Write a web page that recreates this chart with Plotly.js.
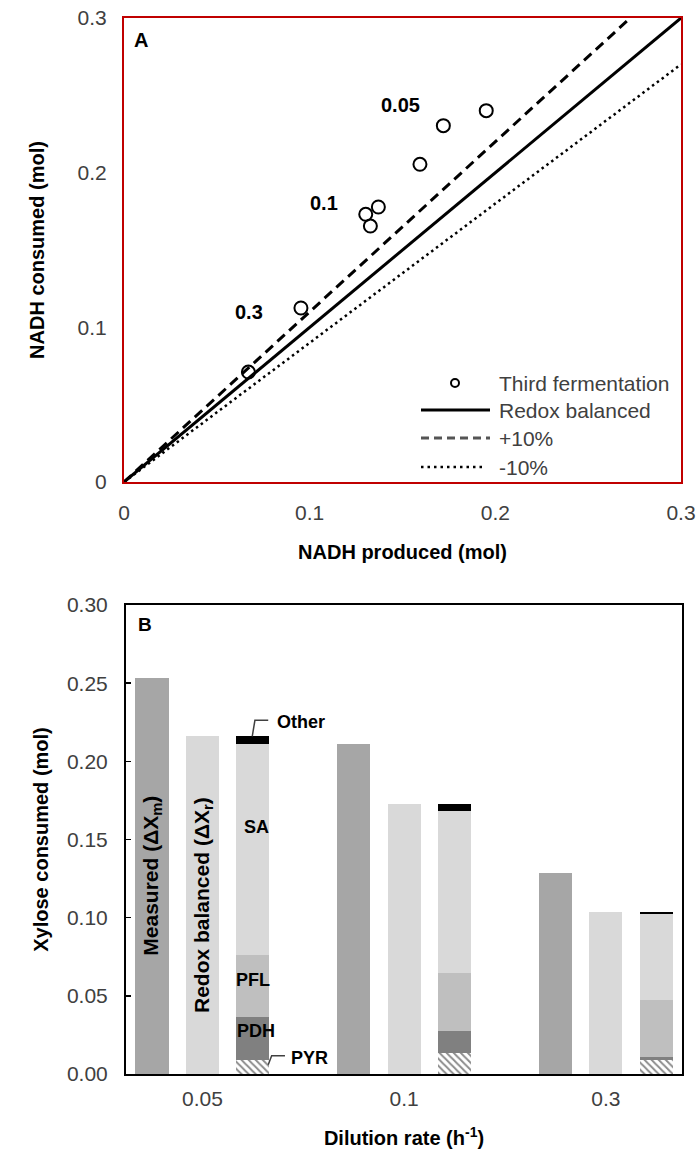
<!DOCTYPE html>
<html>
<head>
<meta charset="utf-8">
<script src="https://cdn.plot.ly/plotly-3.0.1.min.js"></script>
<style>html,body{margin:0;padding:0;background:#fff}#chart{width:698px;height:1153px}</style>
</head>
<body>
<div id="chart"></div>
<script>
// ---- Panel A data ----
const nadhProduced = [0.0670, 0.0953, 0.1302, 0.1327, 0.1370, 0.1594, 0.1720, 0.1951];
const nadhConsumed = [0.0711, 0.1125, 0.1731, 0.1655, 0.1778, 0.2054, 0.2304, 0.2401];
const balancedX = [0, 0.3];
const balancedY = [0, 0.3];
const plus10X = [0, 0.2727];
const plus10Y = [0, 0.3];
const minus10X = [0, 0.3];
const minus10Y = [0, 0.27];
const axisATicks = [0, 0.1, 0.2, 0.3];
const axisATickText = ['0', '0.1', '0.2', '0.3'];
const legendNames = ['Third fermentation', 'Redox balanced', '+10%', '-10%'];

// ---- Panel B data ----
const dilutionRates = ['0.05', '0.1', '0.3'];
const measured = [0.2535, 0.2113, 0.1283];
const redoxBalanced = [0.216, 0.1726, 0.1038];
const pyr = [0.0087, 0.0134, 0.0091];
const pdh = [0.0280, 0.0144, 0.0015];
const pfl = [0.0394, 0.0369, 0.0368];
const sa = [0.1352, 0.1036, 0.0547];
const other = [0.0047, 0.0043, 0.0017];

const FONT = 'Arial, "Liberation Sans", sans-serif';
const GRAY = '#404040';

const idx = dilutionRates.map((d, i) => i);
const xMeasured = idx.map(i => i - 0.25);
const xRedox = idx.map(i => i);
const xStack = idx.map(i => i + 0.25);
const BW = 0.164;

const traces = [
  {type: 'scatter', mode: 'markers', name: legendNames[0], x: nadhProduced, y: nadhConsumed,
   xaxis: 'x', yaxis: 'y',
   marker: {symbol: 'circle-open', size: 13, color: '#000', line: {width: 2, color: '#000'}}},
  {type: 'scatter', mode: 'lines', name: legendNames[1], x: balancedX, y: balancedY,
   xaxis: 'x', yaxis: 'y', line: {color: '#000', width: 3}},
  {type: 'scatter', mode: 'lines', name: legendNames[2], x: plus10X, y: plus10Y,
   xaxis: 'x', yaxis: 'y', line: {color: '#000', width: 3, dash: '10px,6px'}},
  {type: 'scatter', mode: 'lines', name: legendNames[3], x: minus10X, y: minus10Y,
   xaxis: 'x', yaxis: 'y', line: {color: '#000', width: 2.5, dash: '2.5px,3.5px'}},

  {type: 'bar', name: 'Measured', x: xMeasured, y: measured, width: BW, xaxis: 'x2', yaxis: 'y2',
   marker: {color: '#a6a6a6', line: {width: 0}}},
  {type: 'bar', name: 'Redox balanced (bar)', x: xRedox, y: redoxBalanced, width: BW, xaxis: 'x2', yaxis: 'y2',
   marker: {color: '#d9d9d9', line: {width: 0}}},
  {type: 'bar', name: 'PYR', x: xStack, y: pyr, width: BW, xaxis: 'x2', yaxis: 'y2',
   marker: {color: '#ffffff', line: {width: 0},
            pattern: {shape: '\\', fgcolor: '#8c8c8c', bgcolor: '#ffffff', size: 5, solidity: 0.4}}},
  {type: 'bar', name: 'PDH', x: xStack, y: pdh, width: BW, xaxis: 'x2', yaxis: 'y2',
   marker: {color: '#808080', line: {width: 0}}},
  {type: 'bar', name: 'PFL', x: xStack, y: pfl, width: BW, xaxis: 'x2', yaxis: 'y2',
   marker: {color: '#bfbfbf', line: {width: 0}}},
  {type: 'bar', name: 'SA', x: xStack, y: sa, width: BW, xaxis: 'x2', yaxis: 'y2',
   marker: {color: '#d9d9d9', line: {width: 0}}},
  {type: 'bar', name: 'Other', x: xStack, y: other, width: BW, xaxis: 'x2', yaxis: 'y2',
   marker: {color: '#000000', line: {width: 0}}}
];

const W = 698, H = 1153;
const px = v => v / W, py = v => (H - v) / H;

const boldFont = (s) => ({family: FONT, size: s, color: '#000'});

// legend rows (pixel layout)
const legendRowY = [383, 410, 438, 467];
const legendTextX = 497;

const annotations = [
  {xref: 'x', yref: 'y', x: 0.0092, y: 0.2858, text: '<b>A</b>', showarrow: false, font: boldFont(20)},
  {xref: 'x', yref: 'y', x: 0.149, y: 0.2437, text: '<b>0.05</b>', showarrow: false, font: boldFont(20)},
  {xref: 'x', yref: 'y', x: 0.1077, y: 0.1802, text: '<b>0.1</b>', showarrow: false, font: boldFont(20)},
  {xref: 'x', yref: 'y', x: 0.0672, y: 0.1101, text: '<b>0.3</b>', showarrow: false, font: boldFont(20)},

  {xref: 'x2', yref: 'y2', x: -0.285, y: 0.2873, text: '<b>B</b>', showarrow: false, font: boldFont(19)},
  {xref: 'x2', yref: 'y2', x: -0.252, y: 0.1266, text: '<b>Measured (ΔX<sub>m</sub>)</b>', textangle: -90, showarrow: false, font: boldFont(21)},
  {xref: 'x2', yref: 'y2', x: 0, y: 0.1084, text: '<b>Redox balanced (ΔX<sub>r</sub>)</b>', textangle: -90, showarrow: false, font: boldFont(21)},
  {xref: 'x2', yref: 'y2', x: 0.267, y: 0.1581, text: '<b>SA</b>', showarrow: false, font: boldFont(18)},
  {xref: 'x2', yref: 'y2', x: 0.25, y: 0.0602, text: '<b>PFL</b>', showarrow: false, font: boldFont(18)},
  {xref: 'x2', yref: 'y2', x: 0.263, y: 0.0272, text: '<b>PDH</b>', showarrow: false, font: boldFont(18)},
  {xref: 'x2', yref: 'y2', x: 0.530, y: 0.0102, text: '<b>PYR</b>', showarrow: false, font: boldFont(18)},
  {xref: 'x2', yref: 'y2', x: 0.49, y: 0.2251, text: '<b>Other</b>', showarrow: false, font: boldFont(18)}
];
legendNames.forEach((n, i) => annotations.push({
  xref: 'paper', yref: 'paper', x: px(legendTextX), y: py(legendRowY[i]), xanchor: 'left', yanchor: 'middle',
  text: n, showarrow: false, font: {family: FONT, size: 21, color: GRAY}
}));

const shapes = [
  {type: 'path', xref: 'x2', yref: 'y2', path: 'M 0.2468 0.216 L 0.260 0.2262 L 0.326 0.2262',
   line: {color: GRAY, width: 1.5}},
  {type: 'path', xref: 'x2', yref: 'y2', path: 'M 0.326 0.0059 L 0.343 0.0117 L 0.409 0.0117',
   line: {color: GRAY, width: 1.5}},
  // legend symbols
  {type: 'circle', xref: 'paper', yref: 'paper', x0: px(451), x1: px(459), y0: py(387), y1: py(379),
   line: {color: '#000', width: 2}},
  {type: 'line', xref: 'paper', yref: 'paper', x0: px(421), x1: px(490), y0: py(legendRowY[1]), y1: py(legendRowY[1]),
   line: {color: '#000', width: 3}},
  {type: 'line', xref: 'paper', yref: 'paper', x0: px(421), x1: px(490), y0: py(legendRowY[2]), y1: py(legendRowY[2]),
   line: {color: '#555', width: 3, dash: '8px,5px'}},
  {type: 'line', xref: 'paper', yref: 'paper', x0: px(421), x1: px(484), y0: py(legendRowY[3]), y1: py(legendRowY[3]),
   line: {color: '#000', width: 2.5, dash: '2.5px,4px'}}
];

const tickFont = {family: FONT, size: 21, color: GRAY};
const titleFont = {family: FONT, size: 20, color: '#000'};

const layout = {
  width: W, height: H,
  margin: {l: 0, r: 0, t: 0, b: 0, pad: 0},
  paper_bgcolor: '#fff', plot_bgcolor: '#fff',
  font: {family: FONT, color: GRAY, size: 20},
  barmode: 'stack', bargap: 0,
  showlegend: false,
  xaxis: {domain: [px(124), px(681)], range: [0, 0.3], anchor: 'y',
          tickvals: axisATicks, ticktext: axisATickText, ticks: '', ticklabelstandoff: 11,
          showgrid: false, zeroline: false, showline: true, mirror: true,
          linecolor: '#c00000', linewidth: 2, automargin: false, tickfont: tickFont,
          title: {text: '<b>NADH produced (mol)</b>', font: titleFont, standoff: 22}},
  yaxis: {domain: [py(482), py(18)], range: [0, 0.3], anchor: 'x',
          tickvals: axisATicks, ticktext: axisATickText, ticks: '', ticklabelstandoff: 11,
          showgrid: false, zeroline: false, showline: true, mirror: true,
          linecolor: '#c00000', linewidth: 2, automargin: false, tickfont: tickFont,
          title: {text: '<b>NADH consumed (mol)</b>', font: titleFont, standoff: 28}},
  xaxis2: {domain: [px(126), px(682)], range: [-0.379, 2.377], anchor: 'y2',
           tickvals: idx, ticktext: dilutionRates, ticks: '', ticklabelstandoff: 5,
           showgrid: false, zeroline: false, showline: true, mirror: true,
           linecolor: '#000', linewidth: 2, automargin: false, tickfont: tickFont,
           title: {text: '<b>Dilution rate (h<sup>-1</sup>)</b>', font: titleFont, standoff: 22}},
  yaxis2: {domain: [py(1074), py(605)], range: [0, 0.30], anchor: 'x2',
           dtick: 0.05, tick0: 0, tickformat: '.2f', ticks: 'inside', ticklen: 5, tickwidth: 1.5, tickcolor: '#000',
           ticklabelstandoff: 12,
           showgrid: false, zeroline: false, showline: true, mirror: true,
           linecolor: '#000', linewidth: 2, automargin: false, tickfont: tickFont,
           title: {text: '<b>Xylose consumed (mol)</b>', font: titleFont, standoff: 13}},
  annotations: annotations,
  shapes: shapes
};

Plotly.newPlot('chart', traces, layout, {displayModeBar: false, staticPlot: true});
</script>
</body>
</html>
